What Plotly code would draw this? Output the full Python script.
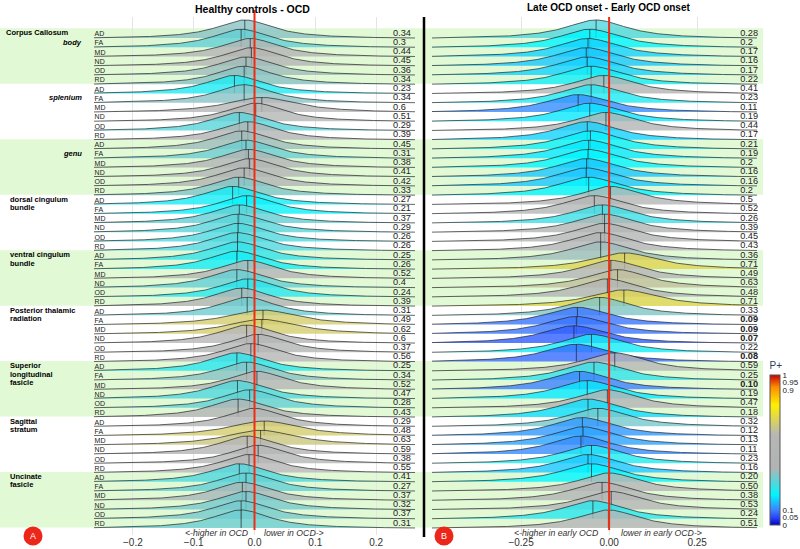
import numpy as np
import plotly.graph_objects as go

# ---------------- data ----------------
measures = ["AD", "FA", "MD", "ND", "OD", "RD"]
tract_labels = [
    (0, ["Corpus Callosum"], 4),
    (18, ["dorsal cingulum", "bundle"], 8),
    (24, ["ventral cingulum", "bundle"], 8),
    (30, ["Posterior thalamic", "radiation"], 8),
    (36, ["Superior", "longitudinal", "fasicle"], 8),
    (42, ["Sagittal", "stratum"], 8),
    (48, ["Uncinate", "fasicle"], 8),
]
sub_labels = [(1, "body"), (7, "splenium"), (13, "genu")]
green_groups = [0, 2, 4, 6, 8]

# Panel A: Healthy controls - OCD
left_text = ["0.34", "0.3", "0.44", "0.45", "0.36", "0.34",
             "0.23", "0.34", "0.6", "0.51", "0.29", "0.39",
             "0.45", "0.31", "0.38", "0.41", "0.42", "0.33",
             "0.27", "0.21", "0.37", "0.29", "0.26", "0.26",
             "0.25", "0.26", "0.52", "0.4", "0.24", "0.39",
             "0.31", "0.49", "0.62", "0.6", "0.37", "0.56",
             "0.25", "0.34", "0.52", "0.47", "0.28", "0.43",
             "0.29", "0.48", "0.63", "0.59", "0.38", "0.55",
             "0.41", "0.27", "0.37", "0.32", "0.37", "0.31"]
left_pplus = [0.34, 0.30, 0.44, 0.45, 0.36, 0.34,
              0.23, 0.34, 0.60, 0.51, 0.29, 0.39,
              0.36, 0.31, 0.38, 0.41, 0.42, 0.33,
              0.22, 0.21, 0.30, 0.29, 0.28, 0.28,
              0.25, 0.22, 0.52, 0.30, 0.24, 0.39,
              0.31, 0.68, 0.68, 0.60, 0.45, 0.56,
              0.24, 0.34, 0.52, 0.28, 0.30, 0.43,
              0.42, 0.68, 0.66, 0.59, 0.50, 0.55,
              0.28, 0.30, 0.37, 0.32, 0.32, 0.31]
left_mean = [-0.016, -0.022, -0.007, -0.005, -0.014, -0.017,
             -0.033, -0.017, 0.012, 0.002, -0.025, -0.011,
             -0.021, -0.014, -0.010, -0.008, -0.017, -0.026,
             -0.036, -0.013, -0.025, -0.027, -0.027, -0.028,
             -0.028, -0.029, -0.011, -0.029, -0.011, -0.021,
             -0.012, 0.014, 0.012, -0.013, 0.006, -0.006,
             -0.029, -0.013, 0.004, -0.028, -0.008, -0.027,
             0.000, 0.016, 0.010, -0.012, 0.006, -0.009,
             -0.025, -0.014, -0.020, -0.014, -0.022, -0.022]
left_width = [0.058] * 54
for i in (8, 31, 32, 43, 44):
    left_width[i] = 0.072

# Panel B: Late OCD onset - Early OCD onset
right_text = ["0.28", "0.2", "0.17", "0.16", "0.17", "0.22",
              "0.41", "0.23", "0.11", "0.19", "0.44", "0.17",
              "0.21", "0.19", "0.2", "0.16", "0.16", "0.2",
              "0.5", "0.52", "0.26", "0.39", "0.45", "0.43",
              "0.36", "0.71", "0.49", "0.63", "0.48", "0.71",
              "0.33", "0.09", "0.09", "0.07", "0.22", "0.08",
              "0.59", "0.25", "0.10", "0.19", "0.47", "0.18",
              "0.32", "0.12", "0.13", "0.11", "0.23", "0.16",
              "0.20", "0.50", "0.38", "0.53", "0.24", "0.51"]
right_bold = [31, 32, 33, 35, 38]
right_pplus = [float(t) for t in right_text]
right_mean = [-0.037, -0.055, -0.060, -0.065, -0.062, -0.051,
              -0.015, -0.051, -0.088, -0.055, -0.009, -0.062,
              -0.053, -0.058, -0.060, -0.064, -0.065, -0.058,
              0.004, -0.042, -0.019, -0.013, -0.013, -0.024,
              -0.024, 0.044, 0.005, 0.024, -0.005, 0.042,
              -0.027, -0.090, -0.093, -0.100, -0.050, -0.093,
              0.016, -0.043, -0.084, -0.062, -0.005, -0.060,
              -0.032, -0.076, -0.074, -0.080, -0.050, -0.060,
              -0.050, 0.000, -0.020, 0.006, -0.046, -0.002]
right_width = [0.108] * 54
for i in (8, 31, 32, 33, 35):
    right_width[i] = 0.112
for i in (25, 29):
    right_width[i] = 0.12

left_ticks = [-0.2, -0.1, 0.0, 0.1, 0.2]
right_ticks = [-0.25, 0.0, 0.25]
cbar_ticks = [0, 0.05, 0.1, 0.9, 0.95, 1]

# ---------------- helpers ----------------
W, HP = 800, 549
MT, MB = 17, 14
PH = HP - MT - MB
def px(p): return p / W
def py(p): return (HP - MB - p) / PH

stops = [(0.0, (0, 0, 200)), (0.05, (40, 70, 255)), (0.1, (60, 130, 255)),
         (0.2, (0, 245, 255)), (0.38, (178, 180, 180)), (0.6, (182, 182, 182)),
         (0.8, (255, 240, 0)), (0.92, (255, 140, 0)), (1.0, (200, 0, 0))]
colorscale = [[s, "rgb(%d,%d,%d)" % c] for s, c in stops]

def cval(v, a=0.8):
    for (s0, c0), (s1, c1) in zip(stops[:-1], stops[1:]):
        if s0 <= v <= s1:
            t = (v - s0) / (s1 - s0)
            c = [c0[k] + t * (c1[k] - c0[k]) for k in range(3)]
            return "rgba(%d,%d,%d,%.2f)" % (c[0], c[1], c[2], a)
    return "rgba(180,180,180,%.2f)" % a

LRANGE = [-0.264, 0.264]
RRANGE = [-0.503, 0.42]
HREF = 1.95
fig = go.Figure()

def add_panel(means, widths, pplus, xr, xa, gref):
    xs = np.linspace(xr[0], xr[1], 320)
    for i in range(54):
        m, g = means[i], widths[i]
        f = 1.0 / (1.0 + ((xs - m) / g) ** 2)
        fe = min(f[0], f[-1])
        gg = np.clip((f - fe) / (1 - fe), 0, None)
        h = HREF * gref / g
        y0 = -i
        ys = y0 + h * gg
        fig.add_trace(go.Scatter(
            x=np.concatenate([xs, xs[::-1]]), y=np.concatenate([ys, np.full(len(xs), y0)]),
            mode="lines", fill="toself", fillcolor=cval(pplus[i]),
            line=dict(width=0), xaxis=xa, yaxis="y", hoverinfo="skip", showlegend=False))
        fig.add_trace(go.Scatter(
            x=list(xs) + [None, m, m], y=list(ys) + [None, y0, y0 + h],
            mode="lines", line=dict(color="rgba(30,30,30,0.85)", width=0.8),
            xaxis=xa, yaxis="y", hoverinfo="skip", showlegend=False))

add_panel(left_mean, left_width, left_pplus, LRANGE, "x", 0.058)
add_panel(right_mean, right_width, right_pplus, RRANGE, "x2", 0.108)

rows = list(range(54))
ylab = [-i for i in rows]
F = "Liberation Sans"
# measure labels
fig.add_trace(go.Scatter(
    x=[LRANGE[0] + 0.001] * 54, y=ylab, text=[measures[i % 6] for i in rows],
    mode="text", textposition="top right", textfont=dict(size=7, color="#222", family=F),
    xaxis="x", yaxis="y", hoverinfo="skip", showlegend=False, cliponaxis=False))
fig.add_trace(go.Scatter(
    x=[(393 - 254.5) / 607.5] * 54, y=ylab, text=left_text,
    mode="text", textposition="top right", textfont=dict(size=9.2, color="#222", family=F),
    xaxis="x", yaxis="y", hoverinfo="skip", showlegend=False, cliponaxis=False))
fig.add_trace(go.Scatter(
    x=[(740 - 609) / 352] * 54, y=ylab,
    text=["<b>%s</b>" % t if i in right_bold else t for i, t in enumerate(right_text)],
    mode="text", textposition="top right", textfont=dict(size=9.2, color="#222", family=F),
    xaxis="x2", yaxis="y", hoverinfo="skip", showlegend=False, cliponaxis=False))

# colorbar
cbar = dict(x=px(770), xanchor="left", xpad=0, ypad=0, y=py(442), yanchor="middle",
            len=166 / PH, lenmode="fraction", thickness=10,
            outlinewidth=1, outlinecolor="#555",
            tickvals=cbar_ticks, ticktext=[str(t) for t in cbar_ticks], ticks="",
            tickfont=dict(size=8, color="#222", family=F),
            title=dict(text="P+", side="top", font=dict(size=10, family=F)))
fig.add_trace(go.Scatter(
    x=[None], y=[None], mode="markers", xaxis="x2", yaxis="y", showlegend=False,
    marker=dict(color=[0.5], cmin=0, cmax=1, colorscale=colorscale, showscale=True, colorbar=cbar)))

shapes = []
for g in green_groups:
    shapes.append(dict(type="rect", xref="paper", yref="y", x0=0, x1=px(763),
                       y0=-(6 * g + 5) + 0.05, y1=-(6 * g) + 1.05,
                       fillcolor="rgb(226,249,213)", line=dict(width=0), layer="below"))
shapes.append(dict(type="line", xref="x", yref="paper", x0=0, x1=0, y0=py(530), y1=py(10),
                   line=dict(color="rgb(238,45,20)", width=2)))
shapes.append(dict(type="line", xref="x2", yref="paper", x0=0, x1=0, y0=py(530), y1=py(17),
                   line=dict(color="rgb(238,45,20)", width=2)))
shapes.append(dict(type="line", xref="paper", yref="paper", x0=px(424), x1=px(424), y0=py(537), y1=py(17),
                   line=dict(color="black", width=2.5)))
for cx in (33, 444):
    shapes.append(dict(type="circle", xref="paper", yref="paper", x0=px(cx - 9.5), x1=px(cx + 9.5),
                       y0=py(536 + 9.5), y1=py(536 - 9.5), fillcolor="rgb(236,38,24)", line=dict(width=0)))

ann = []
for r, lines, xpx in tract_labels:
    for k, t in enumerate(lines):
        ann.append(dict(text="<b>%s</b>" % t, xref="paper", yref="y", x=px(xpx), y=-r + 0.55 - 0.9 * k,
                        xanchor="left", yanchor="middle", showarrow=False,
                        font=dict(size=7.5, color="black", family=F)))
for r, t in sub_labels:
    ann.append(dict(text="<b><i>%s</i></b>" % t, xref="paper", yref="y", x=px(84), y=-r + 0.55,
                    xanchor="right", yanchor="middle", showarrow=False,
                    font=dict(size=7.5, color="black", family=F)))
ann.append(dict(text="<b>Healthy controls - OCD</b>", xref="paper", yref="paper", x=px(253), y=py(9),
                xanchor="center", yanchor="middle", showarrow=False,
                font=dict(size=10.5, color="black", family=F)))
ann.append(dict(text="<b>Late OCD onset - Early OCD onset</b>", xref="paper", yref="paper", x=px(608), y=py(7),
                xanchor="center", yanchor="middle", showarrow=False,
                font=dict(size=10, color="black", family=F)))
for t, xx, anc in [("&lt;-higher in OCD", 250, "right"), ("lower in OCD-&gt;", 262, "left"),
                   ("&lt;-higher in early OCD", 600, "right"), ("lower in early OCD-&gt;", 619, "left")]:
    ann.append(dict(text="<i>%s</i>" % t, xref="paper", yref="paper", x=px(xx), y=py(533),
                    xanchor=anc, yanchor="middle", showarrow=False,
                    font=dict(size=8.7, color="#333", family=F)))
for t, cx in (("A", 33), ("B", 444)):
    ann.append(dict(text=t, xref="paper", yref="paper", x=px(cx), y=py(536), xanchor="center",
                    yanchor="middle", showarrow=False, font=dict(size=9, color="white", family=F)))

fig.update_layout(
    width=W, height=HP, margin=dict(l=0, r=0, t=MT, b=MB, autoexpand=False),
    paper_bgcolor="white", plot_bgcolor="rgba(0,0,0,0)", showlegend=False,
    shapes=shapes, annotations=ann,
    xaxis=dict(domain=[px(94), px(415)], range=LRANGE, anchor="y", tickvals=left_ticks,
               ticktext=["−0.2", "−0.1", "0.0", "0.1", "0.2"], showgrid=True, gridcolor="#e4e4e4",
               zeroline=False, ticks="", showline=False, automargin=False,
               tickfont=dict(size=10, color="#333", family=F)),
    xaxis2=dict(domain=[px(432), px(757)], range=RRANGE, anchor="y", tickvals=right_ticks,
                ticktext=["−0.25", "0.00", "0.25"], showgrid=True, gridcolor="#e4e4e4",
                zeroline=False, ticks="", showline=False, automargin=False,
                tickfont=dict(size=10, color="#333", family=F)),
    yaxis=dict(domain=[0, 1], range=[-53.76, 2.27], visible=False, fixedrange=True),
)
fig.write_html("out.html", config={"displayModeBar": False, "staticPlot": True},
               post_script="document.body.style.margin='0';document.body.style.padding='0';")
